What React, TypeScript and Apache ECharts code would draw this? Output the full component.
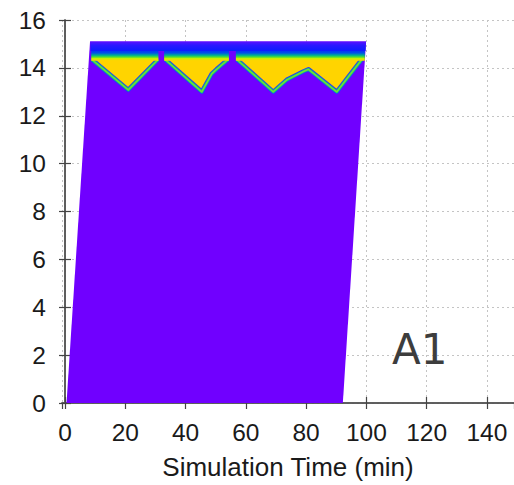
import React, { useEffect, useRef } from 'react';
import * as echarts from 'echarts';

// ---- axis ranges & texts ----
const X_MIN = -1;
const X_MAX = 149;
const Y_MIN = 0;
const Y_MAX = 16;
const Y_INTERVAL = 2;
const X_TITLE = 'Simulation Time (min)';
const PANEL_LABEL = 'A1';

// ---- data regions (x in min, y in axis units) ----
const baseRegion: number[][] = [[0.5, 0], [92.2, 0], [99.9, 15.1], [8.3, 15.1]];
const topStrip: number[][] = [[8.35, 15.1], [99.9, 15.1], [99.75, 14.7], [8.5, 14.7]];
const bandSegments: number[][] = [[8.7, 31.0], [32.9, 54.4], [56.7, 99.5]];
const bandRange: number[] = [14.8, 14.3];
const yellowTriangles: number[][][] = [
  [[8.9, 14.35], [30.9, 14.35], [21.0, 13.08]],
  [[33.2, 14.35], [54.1, 14.35], [50.3, 13.94], [48.7, 13.75], [45.4, 13.0]],
  [[57.0, 14.35], [98.5, 14.35], [90.2, 13.0], [80.8, 13.94], [79.1, 13.85], [73.6, 13.5], [69.1, 13.0]],
];

const FONT = 'Liberation Sans, Arial, sans-serif';

export default function App() {
  const ref = useRef<HTMLDivElement>(null);
  useEffect(() => {
    if (!ref.current) return;
    const chart = echarts.init(ref.current, undefined, { renderer: 'svg' });
    const axisLine = { show: true, lineStyle: { color: '#555', width: 1.5 } };
    const axisTick = { show: true, inside: true, length: 6, lineStyle: { color: '#444', width: 1.2 } };
    const split = { show: true, lineStyle: { color: '#c4c4c4', type: [2, 3], width: 1 } };
    const option: any = {
      animation: false,
      grid: { left: 62, right: 0, top: 20, bottom: 81 },
      xAxis: [
        {
          type: 'value', min: X_MIN, max: X_MAX, splitNumber: 7, position: 'bottom',
          name: X_TITLE, nameLocation: 'middle', nameGap: 51,
          nameTextStyle: { fontSize: 26, color: '#1a1a1a', fontFamily: FONT },
          axisLine, axisTick,
          axisLabel: {
            showMinLabel: false, showMaxLabel: false, fontSize: 24.5, color: '#1a1a1a',
            fontFamily: FONT, margin: 17,
            formatter: (v: number) => (v % 20 === 0 ? String(v) : ''),
          },
          splitLine: split,
        },
        {
          type: 'value', min: X_MIN, max: X_MAX, splitNumber: 7, position: 'top',
          axisLine, axisTick, axisLabel: { show: false }, splitLine: { show: false },
        },
      ],
      yAxis: [
        {
          type: 'value', min: Y_MIN, max: Y_MAX, interval: Y_INTERVAL, position: 'left',
          axisLine, axisTick,
          axisLabel: { fontSize: 24.5, color: '#1a1a1a', fontFamily: FONT, margin: 16 },
          splitLine: split,
        },
        {
          type: 'value', min: Y_MIN, max: Y_MAX, interval: Y_INTERVAL, position: 'right',
          axisLine, axisTick, axisLabel: { show: false }, splitLine: { show: false },
        },
      ],
      graphic: [
        {
          type: 'text', left: 392, top: 328, z: 100,
          style: { text: PANEL_LABEL, fontSize: 42, fontFamily: 'DejaVu Sans', fill: '#3d3d3d' },
        },
      ],
      series: [
        {
          type: 'custom', z: 2, data: [[0]],
          renderItem: (_p: any, api: any) => ({
            type: 'polygon',
            shape: { points: baseRegion.map((p) => api.coord(p)) },
            style: { fill: '#7000ff' },
          }),
        },
        {
          type: 'custom', z: 3, data: yellowTriangles.map((_, i) => [i]),
          renderItem: (p: any, api: any) => {
            const pts = yellowTriangles[p.dataIndex].map((q) => api.coord(q));
            const open = pts.slice(1).concat([pts[0]]);
            return {
              type: 'group',
              children: [
                { type: 'polygon', shape: { points: pts }, style: { fill: '#ffd400' } },
                { type: 'polyline', shape: { points: open }, style: { fill: 'none', stroke: '#2a30ff', lineWidth: 4.5, lineJoin: 'round' } },
                { type: 'polyline', shape: { points: open }, style: { fill: 'none', stroke: '#10b888', lineWidth: 3, lineJoin: 'round' } },
                { type: 'polyline', shape: { points: open }, style: { fill: 'none', stroke: '#70e030', lineWidth: 1.5, lineJoin: 'round' } },
              ],
            };
          },
        },
        {
          type: 'custom', z: 4, data: bandSegments.map((_, i) => [i]),
          renderItem: (p: any, api: any) => {
            const seg = bandSegments[p.dataIndex];
            const a = api.coord([seg[0], bandRange[0]]);
            const b = api.coord([seg[1], bandRange[1]]);
            return {
              type: 'rect',
              shape: { x: a[0], y: a[1], width: b[0] - a[0], height: b[1] - a[1] },
              style: {
                fill: new echarts.graphic.LinearGradient(0, 0, 0, 1, [
                  { offset: 0, color: '#0a1cff' },
                  { offset: 0.35, color: '#0050e8' },
                  { offset: 0.55, color: '#00b090' },
                  { offset: 0.7, color: '#50e030' },
                  { offset: 0.82, color: '#c8f000' },
                  { offset: 1, color: '#ffd400' },
                ]),
              },
            };
          },
        },
        {
          type: 'custom', z: 5, data: [[0]],
          renderItem: (_p: any, api: any) => ({
            type: 'polygon',
            shape: { points: topStrip.map((p) => api.coord(p)) },
            style: {
              fill: new echarts.graphic.LinearGradient(0, 0, 0, 1, [
                { offset: 0, color: '#5a10ff' },
                { offset: 0.4, color: '#2a18ff' },
                { offset: 1, color: '#0a1cff' },
              ]),
            },
          }),
        },
      ],
    };
    chart.setOption(option);
    return () => chart.dispose();
  }, []);
  return (
    <div
      ref={ref}
      style={{ position: 'fixed', left: 0, top: 0, width: 514, height: 485, background: '#fff' }}
    />
  );
}
